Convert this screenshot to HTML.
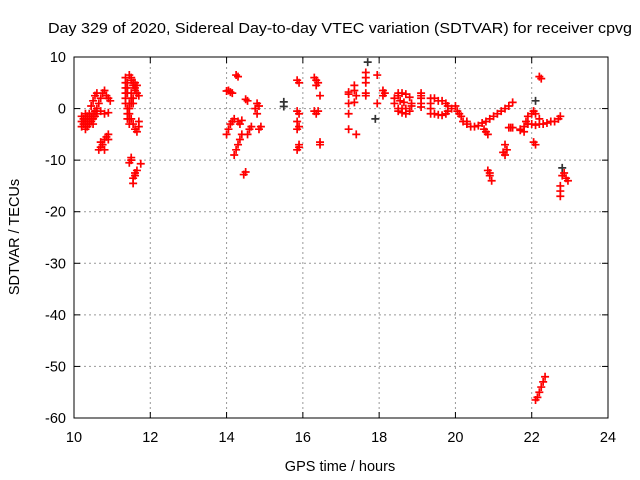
<!DOCTYPE html>
<html><head><meta charset="utf-8"><style>
body{margin:0;background:#fff;}
svg{display:block;font-family:"Liberation Sans",sans-serif;}
</style></head><body>
<svg id="chart" width="640" height="480">
<text x="340" y="33" text-anchor="middle" font-size="14.5" textLength="584" lengthAdjust="spacingAndGlyphs">Day 329 of 2020, Sidereal Day-to-day VTEC variation (SDTVAR) for receiver cpvg</text>
<text x="340" y="471" text-anchor="middle" font-size="14.5">GPS time / hours</text>
<text transform="translate(19,237) rotate(-90)" text-anchor="middle" font-size="14.5">SDTVAR / TECUs</text>
<g id="grid"></g><g id="ticks"></g><g id="marks"></g>
<rect x="74" y="57" width="534" height="361" fill="none" stroke="#000"/>
</svg>
<script>
const xTicks=[10,12,14,16,18,20,22,24];
const yTicks=[10,0,-10,-20,-30,-40,-50,-60];
const redA=[[10.2,-1.5],[10.2,-2.5],[10.2,-3.5],[10.25,-2],[10.25,-3],[10.3,-1],[10.3,-2],[10.3,-3],[10.3,-4],[10.35,-1.5],[10.35,-2.5],[10.35,-3.5],[10.4,-1],[10.4,-2],[10.4,-3],[10.45,-2.5],[10.45,-1.5],[10.5,-1],[10.5,-2],[10.5,-3],[10.55,-0.5],[10.55,-1.5],[10.6,0],[10.6,-1]];
const redB=[[10.45,0.5],[10.5,1.5],[10.55,2.5],[10.6,3],[10.65,1],[10.7,2],[10.75,3],[10.8,3.5],[10.85,2.5],[10.9,2],[10.95,1.5],[10.7,-0.5],[10.8,-1],[10.9,-0.8],[10.65,-8],[10.7,-7.5],[10.75,-7],[10.8,-6],[10.85,-5.5],[10.9,-5],[10.7,-6.5],[10.8,-8],[10.9,-6]];
const redC=[[11.35,6],[11.35,5],[11.35,4],[11.35,3],[11.35,2],[11.35,1],[11.4,5],[11.4,4],[11.4,3],[11.4,0],[11.4,-1],[11.4,-2],[11.45,1],[11.45,0],[11.45,-1],[11.45,-2],[11.45,-3],[11.5,3],[11.5,2],[11.5,1],[11.5,-2],[11.55,2],[11.55,1],[11.55,-3],[11.45,6.5],[11.5,6],[11.5,5.5],[11.55,5],[11.55,4.5],[11.6,5],[11.6,4],[11.6,3.5],[11.65,4.5],[11.65,3],[11.7,2.5],[11.6,-4],[11.65,-4.5],[11.7,-3.5],[11.7,-2.5],[11.45,-10.5],[11.5,-10],[11.5,-9.5],[11.55,-14.5],[11.55,-13.5],[11.6,-13],[11.6,-12.5],[11.65,-12],[11.75,-10.7]];
const redD=[[14.05,3.5],[14.1,3.2],[14.15,3],[14,3.4],[14.25,6.5],[14.3,6.2],[14,-5],[14.05,-4],[14.1,-3],[14.15,-2.5],[14.2,-2],[14.3,-2.5],[14.35,-3],[14.4,-2.3],[14.2,-9],[14.25,-8],[14.3,-7],[14.35,-6],[14.4,-5],[14.45,-12.8],[14.5,-12.3],[14.5,1.8],[14.55,1.5],[14.55,-5],[14.6,-4],[14.65,-3.5],[14.75,0],[14.8,1],[14.85,0.5],[14.8,-1],[14.85,-4],[14.9,-3.5]];
const redE=[[15.85,5.5],[15.9,5],[15.85,-0.5],[15.9,-1],[15.85,-2.5],[15.9,-3.5],[15.85,-4],[15.9,-7.5],[15.85,-8],[15.9,-7],[16.3,6],[16.35,5.5],[16.4,5],[16.35,4.5],[16.3,-0.5],[16.35,-1],[16.4,-0.5],[16.45,2.5],[16.45,-6.5],[16.45,-7],[17.2,3.2],[17.2,2.8],[17.2,1],[17.2,-1],[17.2,-4],[17.35,4.5],[17.35,3.5],[17.4,2.5],[17.4,-5],[17.35,1.2],[17.65,7],[17.65,6],[17.65,5],[17.65,3],[17.65,2.5],[17.95,6.5],[17.95,1]];
const redF=[[18.1,3.5],[18.1,2.5],[18.15,3],[18.4,1],[18.4,2],[18.5,3],[18.5,0],[18.5,2.5],[18.5,-0.5],[18.6,3],[18.6,0],[18.6,-0.8],[18.7,2.8],[18.7,0],[18.7,-1],[18.8,2.2],[18.8,-0.5],[18.85,1],[18.85,0.5],[18.55,1.5],[18.65,1.2],[19.1,3],[19.1,2.5],[19.1,2],[19.1,1],[19.1,0.3],[19.35,2],[19.35,1],[19.35,0],[19.35,-1],[19.45,2],[19.45,-1],[19.55,1.5],[19.55,-1.2],[19.65,1.5],[19.65,-1.3],[19.75,1],[19.75,-1],[19.8,0.5],[19.8,-0.5]];
const redG=[[19.9,0],[20,0.5],[20.05,-0.5],[20.1,-1],[20.15,-1.5],[20.2,-2.5],[20.3,-3],[20.4,-3.5],[20.5,-3.5],[20.6,-3.3],[20.3,-2.5],[20.7,-2.8],[20.8,-2.5],[20.9,-2],[21,-1.5],[21.1,-1],[21.2,-0.5],[21.3,0],[21.4,0.5],[21.5,1.2],[20.75,-4],[20.8,-4.5],[20.85,-5],[20.85,-12],[20.9,-13],[20.95,-14],[20.9,-12.5],[21.3,-7],[21.35,-8],[21.25,-8.5],[21.3,-9],[21.4,-3.7],[21.45,-3.7],[21.5,-3.7]];
const redH=[[21.7,-4],[21.8,-3.5],[21.9,-3],[22,-3],[22.1,-3.2],[22.2,-3],[22.3,-3],[22.4,-2.8],[22.5,-2.5],[22.6,-2.5],[22.7,-2],[22.75,-1.5],[21.8,-4.5],[21.7,-4.2],[21.9,-1.5],[22,-1],[22.1,-1],[22.2,-2],[21.85,-2.5],[22.05,-0.5],[22.05,-6.5],[22.1,-7],[22.2,6.2],[22.25,5.8],[22.1,-56.5],[22.15,-56],[22.2,-55],[22.25,-54],[22.3,-53],[22.35,-52],[22.8,-13],[22.85,-12.5],[22.9,-13.5],[22.95,-14],[22.75,-15],[22.75,-16],[22.75,-17]];
const blackPts=[[15.5,1.3],[15.5,0.4],[17.7,9],[17.9,-2],[22.1,1.5],[22.8,-11.5]];
const L=74,R=608,T=57,B=418;
const sx=v=>L+(v-10)/(24-10)*(R-L);
const sy=v=>T+(10-v)/(10-(-60))*(B-T);
const NS='http://www.w3.org/2000/svg';
function mk(tag,attrs,parent){const e=document.createElementNS(NS,tag);for(const k in attrs)e.setAttribute(k,attrs[k]);parent.appendChild(e);return e;}
const grid=document.getElementById('grid'),ticks=document.getElementById('ticks'),marks=document.getElementById('marks');
xTicks.forEach(t=>{const x=sx(t);
 if(t>10&&t<24){const g=mk('line',{x1:x,x2:x,y1:T,y2:B,stroke:'#999','stroke-dasharray':'2,3'},grid);
 
 }
 mk('line',{x1:x,x2:x,y1:B,y2:B-6,stroke:'#000'},ticks);mk('line',{x1:x,x2:x,y1:T,y2:T+6,stroke:'#000'},ticks);
 const lb=mk('text',{x:x,y:B+24,'text-anchor':'middle','font-size':'14.5'},ticks);lb.textContent=t;
 
 });
yTicks.forEach(t=>{const y=sy(t);
 if(t<10&&t>-60){const g=mk('line',{x1:L,x2:R,y1:y,y2:y,stroke:'#999','stroke-dasharray':'2,3'},grid);
 
 }
 mk('line',{x1:L,x2:L+6,y1:y,y2:y,stroke:'#000'},ticks);mk('line',{x1:R,x2:R-6,y1:y,y2:y,stroke:'#000'},ticks);
 const lb=mk('text',{x:L-8,y:y+5,'text-anchor':'end','font-size':'14.5'},ticks);lb.textContent=t;
 
 });
function plus(p,col){const x=sx(p[0]),y=sy(p[1]);
 const e=mk('path',{d:`M${x-4},${y}h8M${x},${y-4}v8`,stroke:col,'stroke-width':1.7,fill:'none'},marks);
 
 }
[redA,redB,redC,redD,redE,redF,redG,redH].forEach(arr=>arr.forEach(p=>plus(p,'#f00')));
blackPts.forEach(p=>plus(p,'#333'));
</script>
</body></html>
